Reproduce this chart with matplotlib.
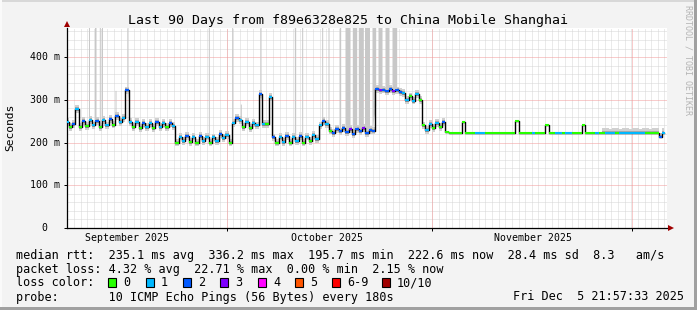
import numpy as np
import matplotlib
matplotlib.use("Agg")
import matplotlib.pyplot as plt
import matplotlib.transforms as mtrans
from matplotlib.patches import Rectangle

# ---------------- data ----------------
sample_step_days = 0.5   # one median sample every half day

median_ms = [
    # Sep (days 0 - 16)
    248, 236, 244, 278, 236, 250, 238, 252, 240, 250, 236, 252, 240, 255, 242, 262,
    248, 258, 322, 248, 236, 248, 234, 246, 236, 246, 234, 248, 236, 246, 236, 246, 238,
    # days 16.5 - 24.5
    200, 214, 204, 216, 202, 214, 200, 216, 204, 214, 200, 212, 204, 220, 210, 218, 200,
    # days 25 - 30.5
    245, 258, 252, 236, 248, 234, 246, 240, 314, 244, 244, 306,
    # days 31 - 37.5
    212, 200, 214, 202, 216, 200, 214, 204, 216, 200, 214, 204, 218, 208,
    # days 38 - 39.5
    240, 250, 244, 228,
    # days 40 - 46
    222, 232, 226, 234, 224, 232, 220, 232, 226, 234, 222, 230, 228,
    # days 46.5 - 50
    326, 322, 324, 320, 326, 320, 322, 318,
    # days 50.5 - 53
    316, 300, 308, 298, 314, 300,
    # days 53.5 - 56.5
    240, 230, 244, 234, 246, 236, 248,
    # days 57 - 89.5
    224, 223, 222, 223, 223, 248, 222, 223, 223, 222, 223, 223, 222, 223, 223, 222,
    223, 223, 222, 223, 223, 250, 222, 223, 223, 222, 223, 223, 222, 223, 240, 223,
    222, 223, 223, 222, 223, 223, 222, 223, 223, 240, 223, 222, 223, 223, 222, 223,
    223, 222, 223, 223, 222, 223, 223, 222, 223, 223, 222, 223, 223, 222, 223, 223,
    212, 223,
]

loss_count = [
    1, 0, 2, 1, 0, 2, 0, 1, 1, 2, 0, 1, 1, 2, 0, 2, 1, 1, 2, 1, 0, 1, 0, 2, 1, 1, 0, 2, 1, 1, 0, 2, 1,
    0, 1, 1, 2, 0, 1, 0, 2, 1, 1, 0, 1, 1, 2, 1, 1, 0,
    1, 2, 1, 0, 1, 0, 1, 1, 2, 1, 0, 1,
    2, 0, 1, 1, 2, 0, 1, 1, 2, 0, 1, 0, 1, 1,
    1, 2, 1, 0,
    2, 2, 2, 2, 2, 3, 2, 2, 2, 3, 2, 2, 2,
    2, 3, 2, 2, 2, 3, 2, 2,
    1, 1, 0, 1, 1, 0,
    0, 1, 1, 0, 1, 0, 2,
    0, 0, 0, 0, 0, 0, 0, 0, 0, 1, 1, 1, 0, 0, 0, 0,
    0, 0, 0, 0, 0, 0, 0, 0, 0, 0, 1, 0, 0, 0, 0, 0,
    0, 1, 1, 0, 1, 1, 0, 0, 0, 0, 0, 0, 0, 1, 0, 0,
    1, 1, 1, 0, 1, 1, 1, 1, 1, 1, 1, 1, 0, 0, 0, 0,
    2, 1,
]

# smoke spread (ms) around the median, by period
smoke_seg_start = [0, 57, 80.5]
smoke_below_ms = [9, 1, 1]
smoke_above_ms = [9, 1, 10]

# tall smoke (single very slow pings) : start day, end day, top (ms)
tall_start = [3.22, 4.12, 4.85, 5.17, 7.20, 9.00, 21.20, 24.70, 26.00, 28.95, 34.10, 35.20,
              38.20, 39.15, 40.85, 41.70, 42.80, 43.70, 44.70, 45.75, 46.65, 47.70, 48.75]
tall_end = [3.37, 4.35, 5.00, 5.32, 7.35, 9.15, 21.35, 24.85, 26.15, 29.10, 34.30, 35.35,
            38.35, 39.30, 41.05, 42.45, 43.45, 44.45, 45.45, 46.30, 47.25, 48.30, 49.45]
tall_top = [470, 470, 470, 470, 322, 470, 470, 470, 290, 470, 470, 470,
            470, 470, 470, 470, 470, 470, 470, 470, 470, 470, 470]

month_start_days = [23.95, 54.8, 84.75]
month_label_days = [9.0, 39.0, 69.9]
month_labels = ["September 2025", "October 2025", "November 2025"]

y_ticks = [0, 100, 200, 300, 400]
y_tick_labels = ["  0", "100 m", "200 m", "300 m", "400 m"]

loss_legend_labels = ["0", "1", "2", "3", "4", "5", "6-9", "10/10"]
loss_legend_colors = ["#26ff00", "#00b8ff", "#0059ff", "#7e00ff", "#ff00ff",
                      "#ff5500", "#ff0000", "#a10000"]

title = "Last 90 Days from f89e6328e825 to China Mobile Shanghai"
rtt_avg, rtt_max, rtt_min, rtt_now, rtt_sd, am_s = "235.1", "336.2", "195.7", "222.6", "28.4", "8.3"
loss_avg, loss_max, loss_min, loss_now = "4.32", "22.71", "0.00", "2.15"
probe_text = "10 ICMP Echo Pings (56 Bytes) every 180s"
date_text = "Fri Dec  5 21:57:33 2025"

# ---------------- figure ----------------
W, H = 697, 310
MONO = "DejaVu Sans Mono"
fig = plt.figure(figsize=(W / 100, H / 100), dpi=100, facecolor="#f3f3f3")

ax = fig.add_axes([67 / W, (H - 228) / H, 600 / W, 200 / H])
ax.set_facecolor("white")
ax.set_xlim(0, 90)
ax.set_ylim(0, 468)

t = np.arange(len(median_ms)) * sample_step_days
med = np.array(median_ms, dtype=float)

# grid (dotted)
grid_kw = dict(lw=0.72, ls=(0, (1, 1)))
minor_x = [d for d in np.arange(month_start_days[0] - 24 * 0.995, 90.2, 0.995) if d >= 0]
for d in minor_x:
    ax.axvline(d, color="#d6d6d6", zorder=0.5, **grid_kw)
for v in range(20, 468, 20):
    if v % 100:
        ax.axhline(v, color="#d6d6d6", zorder=0.5, **grid_kw)
for d in month_start_days:
    ax.axvline(d, color="#f29a9a", zorder=0.6, **grid_kw)
for v in y_ticks[1:]:
    ax.axhline(v, color="#f29a9a", zorder=0.6, **grid_kw)

# smoke
seg_idx = np.searchsorted(smoke_seg_start, t, side="right") - 1
below = np.array(smoke_below_ms)[seg_idx]
above = np.array(smoke_above_ms)[seg_idx]
ax.fill_between(t, med - below, med + above, step="mid", color="#d0d0d0", lw=0, zorder=1)
ax.fill_between(t, med - below / 2, med + above / 2, step="mid", color="#a8a8a8", lw=0, zorder=1.1)

for s, e, top in zip(tall_start, tall_end, tall_top):
    xs = np.array([s, e])
    ax.fill_between(xs, np.interp(xs, t, med), [top, top], color="#c8c8c8", lw=0, zorder=1.2)

# median line
ax.plot(t, med, drawstyle="steps-mid", color="black", lw=1.0, zorder=3)


def loss_col(n):
    if n <= 5:
        return loss_legend_colors[n]
    if n < 10:
        return loss_legend_colors[6]
    return loss_legend_colors[7]


ax.hlines(med, t - sample_step_days / 2, t + sample_step_days / 2,
          colors=[loss_col(n) for n in loss_count], lw=1.5, zorder=4)

# axes
for side in ("top", "right"):
    ax.spines[side].set_visible(False)
for side in ("left", "bottom"):
    ax.spines[side].set_color("black")
    ax.spines[side].set_linewidth(0.9)
ax.set_xticks(month_start_days)
ax.set_xticklabels([])
ax.set_yticks(y_ticks)
ax.set_yticklabels([])
ax.tick_params(axis="both", length=2, width=0.72, color="black", direction="out")
ax.plot([1.006], [0], marker=">", transform=ax.transAxes, clip_on=False,
        color="#a00000", ms=4.5, mew=0, zorder=5)
ax.plot([0], [1.02], marker="^", transform=ax.transAxes, clip_on=False,
        color="#a00000", ms=4.5, mew=0, zorder=5)

ytr = mtrans.blended_transform_factory(fig.transFigure, ax.transData)
for v, lab in zip(y_ticks, y_tick_labels):
    fig.text(30 / W, v, lab, transform=ytr, ha="left", va="center",
             family=MONO, fontsize=7.1)
xtr = mtrans.blended_transform_factory(ax.transData, fig.transFigure)
for d, lab in zip(month_label_days, month_labels):
    fig.text(d, 1 - 238 / H, lab, transform=xtr, ha="center", va="center",
             family=MONO, fontsize=7.1)

fig.text(0.5, 1 - 24 / H, title, ha="center", va="baseline", family=MONO, fontsize=9.5)
fig.text(10 / W, 1 - 127 / H, "Seconds", rotation=90, ha="center", va="center",
         family=MONO, fontsize=8.1)
fig.text(688 / W, 1 - 5 / H, "RRDTOOL / TOBI OETIKER", rotation=270, ha="center",
         va="top", family=MONO, fontsize=6, color="#b4b4b4")

# legend
line1 = (f"median rtt:  {rtt_avg} ms avg  {rtt_max} ms max  {rtt_min} ms min  "
         f"{rtt_now} ms now  {rtt_sd} ms sd  {am_s}   am/s")
line2 = f"packet loss: {loss_avg} % avg  {loss_max} % max  {loss_min} % min  {loss_now} % now"
line4 = f"probe:       {probe_text}"
fs = 8.5
fig.text(16 / W, 1 - 258.5 / H, line1, family=MONO, fontsize=fs, va="baseline")
fig.text(16 / W, 1 - 272.5 / H, line2, family=MONO, fontsize=fs, va="baseline")
fig.text(16 / W, 1 - 286.5 / H, "loss color:", family=MONO, fontsize=fs, va="baseline")
fig.text(16 / W, 1 - 300.5 / H, line4, family=MONO, fontsize=fs, va="baseline")
fig.text(513 / W, 1 - 300.5 / H, date_text, family=MONO, fontsize=fs, va="baseline")

box_x = [108, 146, 183, 220, 258, 295, 332, 382]
for bx, col, lab in zip(box_x, loss_legend_colors, loss_legend_labels):
    fig.add_artist(Rectangle((bx / W, 1 - 287 / H), 8 / W, 9 / H, transform=fig.transFigure,
                             facecolor=col, edgecolor="black", lw=0.8))
    fig.text((bx + 15) / W, 1 - 286.5 / H, lab, family=MONO, fontsize=fs, va="baseline")

# 3D frame
fig.add_artist(Rectangle((0, 1 - 2 / H), 1, 2 / H, transform=fig.transFigure,
                         facecolor="#d8d8d8", lw=0))
fig.add_artist(Rectangle((0, 0), 2 / W, 1, transform=fig.transFigure,
                         facecolor="#fafafa", lw=0))
fig.add_artist(Rectangle((0, 0), 1, 3 / H, transform=fig.transFigure,
                         facecolor="#a0a0a0", lw=0))
fig.add_artist(Rectangle((1 - 3 / W, 0), 3 / W, 1, transform=fig.transFigure,
                         facecolor="#a0a0a0", lw=0))

fig.savefig("out.png", dpi=100, facecolor=fig.get_facecolor())
